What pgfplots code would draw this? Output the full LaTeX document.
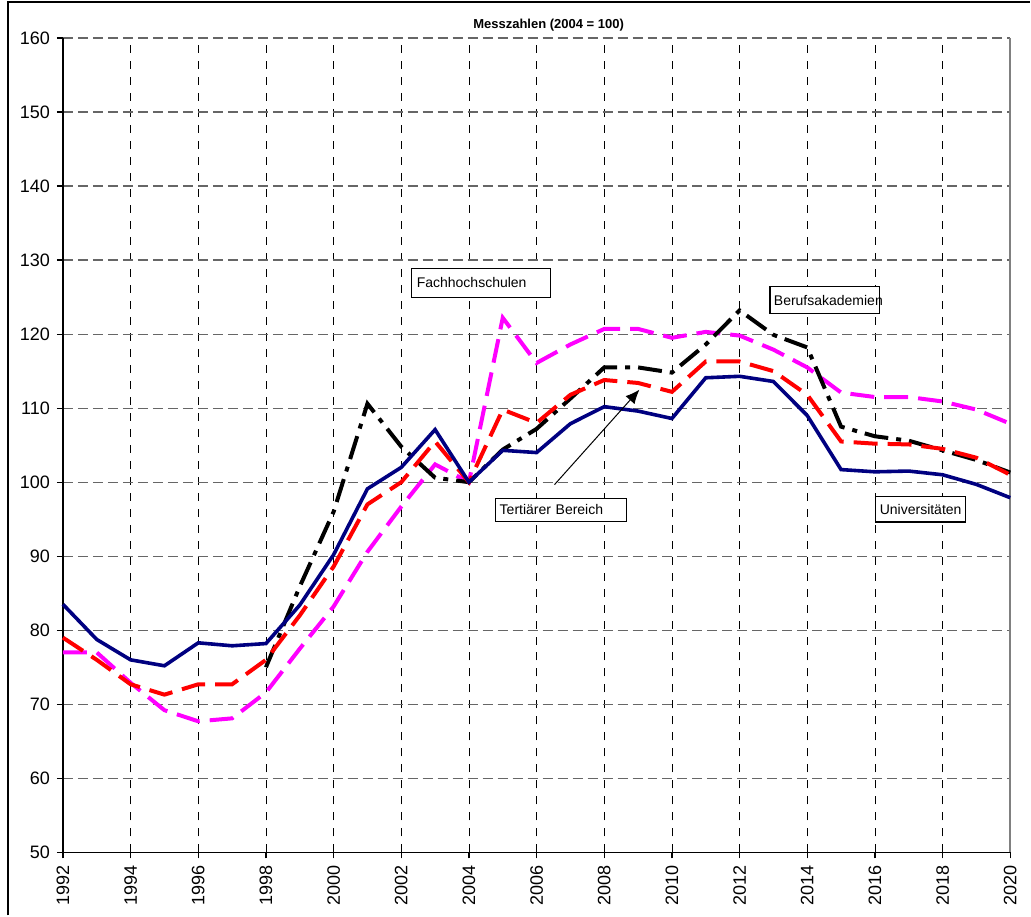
\documentclass[border=0pt]{standalone}
\usepackage{pgfplots}
\pgfplotsset{compat=1.18}
\usetikzlibrary{arrows.meta}
\usepackage{fontspec}
\setmainfont{Liberation Sans}
\definecolor{navyc}{RGB}{0,0,128}
\definecolor{magc}{RGB}{255,0,255}
\definecolor{redc}{RGB}{255,0,0}
\begin{document}
\begin{tikzpicture}
\begin{axis}[
  scale only axis, width=474pt, height=407.5pt,
  xmin=1992, xmax=2020, ymin=50, ymax=160,
  xtick={1992,1994,...,2020}, ytick={50,60,...,160},
  /pgf/number format/assume math mode=true,
  xticklabel style={rotate=90, anchor=east, font=\fontsize{9}{10}\selectfont, /pgf/number format/1000 sep={}},
  yticklabel style={font=\fontsize{9}{10}\selectfont},
  axis x line*=bottom, axis y line*=left,
  axis line style={black, line width=0.8pt, -},
  tick align=outside, major tick length=3pt,
  tick style={black, line width=0.6pt},
  grid=major,
  x grid style={black, line width=0.4pt, dash pattern=on 4pt off 4pt},
  y grid style={black!60, line width=0.6pt, dash pattern=on 5pt off 2.5pt},
  title={\bfseries\fontsize{6.5}{8}\selectfont Messzahlen (2004 = 100)},
  title style={yshift=-6pt, xshift=6pt},
  clip=false,
]
\coordinate (ll) at (rel axis cs:0,0);
\coordinate (ur) at (rel axis cs:1,1);
\coordinate (ul) at (rel axis cs:0,1);
\draw[black!50, line width=0.8pt] (rel axis cs:1,0) -- (rel axis cs:1,1);
% Fachhochschulen
\addplot[magc, line width=2pt, dash pattern=on 12pt off 5pt, sharp plot] coordinates {
(1992,77.0)(1993,77.0)(1994,72.9)(1995,69.2)(1996,67.7)(1997,68.1)(1998,71.6)(1999,77.5)
(2000,83.2)(2001,90.6)(2002,96.7)(2003,102.4)(2004,100)(2005,122.2)(2006,116.1)(2007,118.6)
(2008,120.7)(2009,120.7)(2010,119.5)(2011,120.3)(2012,119.8)(2013,117.9)(2014,115.5)
(2015,112.1)(2016,111.5)(2017,111.5)(2018,110.9)(2019,109.8)(2020,107.9)};
% Berufsakademien
\addplot[black, line width=2pt, dash pattern=on 12pt off 4pt on 2.5pt off 4pt, sharp plot] coordinates {
(1998,75.0)(1999,85.9)(2000,96.0)(2001,110.6)(2002,104.8)(2003,100.6)(2004,100)(2005,104.4)
(2006,107.2)(2007,111.3)(2008,115.5)(2009,115.5)(2010,114.8)(2011,118.6)(2012,123.2)
(2013,119.9)(2014,118.2)(2015,107.5)(2016,106.2)(2017,105.6)(2018,104.3)(2019,103.0)(2020,101.3)};
% Tertiärer Bereich
\addplot[redc, line width=2pt, dash pattern=on 12pt off 5pt, sharp plot] coordinates {
(1992,79.0)(1993,76.0)(1994,72.7)(1995,71.3)(1996,72.7)(1997,72.7)(1998,76.0)(1999,82.0)
(2000,88.6)(2001,97.0)(2002,100.0)(2003,105.5)(2004,100)(2005,109.8)(2006,108.0)(2007,111.8)
(2008,113.8)(2009,113.4)(2010,112.2)(2011,116.3)(2012,116.3)(2013,115.0)(2014,111.8)
(2015,105.5)(2016,105.2)(2017,105.1)(2018,104.5)(2019,103.3)(2020,101.0)};
% Universitäten
\addplot[navyc, line width=1.8pt, sharp plot] coordinates {
(1992,83.5)(1993,78.75)(1994,76.0)(1995,75.2)(1996,78.3)(1997,77.9)(1998,78.2)(1999,83.4)
(2000,90.2)(2001,99.1)(2002,102.0)(2003,107.1)(2004,100)(2005,104.3)(2006,104.0)(2007,107.9)
(2008,110.2)(2009,109.6)(2010,108.6)(2011,114.1)(2012,114.3)(2013,113.6)(2014,109.0)
(2015,101.7)(2016,101.4)(2017,101.5)(2018,101.0)(2019,99.7)(2020,97.9)};
% annotations
\tikzset{lab/.style={draw=black, fill=white, line width=0.6pt, anchor=north west, inner sep=2pt, font=\fontsize{7}{8}\selectfont}}
\node[lab, minimum width=69.5pt, minimum height=14.5pt, text width=64pt, align=left] at (axis cs:2002.28,128.96) {Fachhochschulen};
\node[lab, minimum width=55pt, minimum height=13.5pt, text width=51pt, align=left] at (axis cs:2012.88,126.5) {Berufsakademien};
\node[lab, minimum width=65.5pt, minimum height=11.5pt, text width=61pt, align=left] at (axis cs:2004.76,97.9) {Tertiärer Bereich};
\node[lab, minimum width=44.5pt, minimum height=13pt, text width=41pt, align=left] at (axis cs:2016.01,98.2) {Universitäten};
\draw[black, line width=0.5pt, -{Latex[length=7pt,width=6pt]}] (axis cs:2006.53,99.67) -- (axis cs:2009.04,112.5);
\end{axis}
\pgfresetboundingbox
\path ([shift={(-31.5pt,-31.5pt)}]ll) rectangle ([shift={(10pt,19pt)}]ur);
\draw[black, line width=0.8pt] ([shift={(-27.5pt,-31.5pt)}]ll) -- ([shift={(-27.5pt,18pt)}]ul) -- ([shift={(10pt,18pt)}]ur);
\end{tikzpicture}
\end{document}
